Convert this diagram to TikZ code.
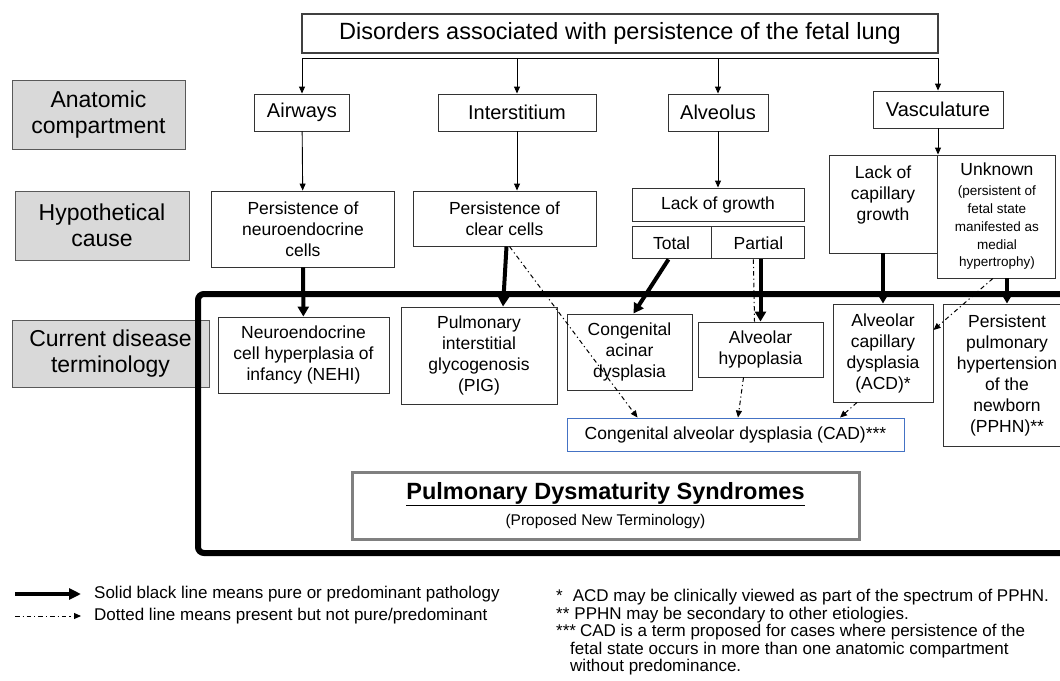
\documentclass[tikz,border=0pt]{standalone}
\usepackage{fontspec}
\setmainfont{Liberation Sans}
\usetikzlibrary{arrows.meta, positioning}
\definecolor{labelgray}{RGB}{217,217,217}
\definecolor{cadblue}{RGB}{68,114,196}
\definecolor{framegray}{RGB}{128,128,128}

\begin{document}
\begin{tikzpicture}[
  x=1pt, y=-1pt,
  every node/.style={font=\fontsize{17.5}{21}\selectfont, align=center, inner sep=1pt},
  box/.style={rectangle, draw=black!80, line width=0.9pt, fill=white},
  rowlabel/.style={rectangle, draw=black!65, line width=0.9pt, fill=labelgray, font=\fontsize{23}{26}\selectfont},
  compartment/.style={box, minimum height=37pt, font=\fontsize{20}{24}\selectfont},
  link/.style={-{Triangle[length=7pt,width=6pt]}, line width=0.9pt},
  pure/.style={-{Triangle[length=10pt,width=11pt]}, line width=4pt},
  weak/.style={-{Triangle[length=7pt,width=6pt]}, line width=1pt, dash pattern=on 4.5pt off 3pt on 1.2pt off 3pt}
]
\useasboundingbox (0,0) rectangle (1060,680);

% Row labels
\node[rowlabel, minimum width=173pt, minimum height=69pt] (lab1) at (98.5,114.5) {Anatomic\\compartment};
\node[rowlabel, minimum width=174pt, minimum height=69pt] (lab2) at (102,225.5) {Hypothetical\\cause};
\node[rowlabel, minimum width=197pt, minimum height=67pt] (lab3) at (110.5,353.5) {Current disease\\terminology};

% Frame round the current terminology
\node[draw, line width=6pt, rounded corners=6pt, minimum width=882pt, minimum height=259pt] (frame) at (639,423.5) {};

% Top box and compartments
\node[box, draw=black!75, line width=1.2pt, minimum width=636pt, minimum height=39pt, font=\fontsize{23.5}{26}\selectfont] (title) at (620,33.5) {Disorders associated with persistence of the fetal lung};
\coordinate (bar) at ([yshift=-5pt]title.south);

\node[compartment, minimum width=95pt] (airways) at (302,112.5) {Airways};
\node[compartment, minimum width=158pt] (inter) at (517,112.5) {Interstitium};
\node[compartment, minimum width=100pt] (alveolus) at (718,112.5) {Alveolus};
\node[compartment, minimum width=130pt] (vasc) at (938,109.5) {Vasculature};

% Hypothetical causes
\node[box, minimum width=183pt, minimum height=76pt] (pne) at (303,229) {Persistence of\\neuroendocrine\\cells};
\node[box, minimum width=183pt, minimum height=55pt] (pcc) at (504.5,218.5) {Persistence of\\clear cells};
\node[box, minimum width=172pt, minimum height=33pt] (growth) at (718,204.5) {Lack of growth};
\node[box, minimum width=79pt, minimum height=32pt, below=5pt of growth.south west, anchor=north west] (total) {Total};
\node[box, minimum width=93pt, minimum height=32pt, right=0pt of total] (partial) {Partial};
\node[box, minimum width=108pt, minimum height=98pt] (lackcap) at (883,204) {Lack of\\capillary\\growth\\\mbox{}};
\node[box, minimum width=118pt, minimum height=123pt, right=0pt of lackcap.north east, anchor=north west,
      font=\fontsize{13.5}{17.8}\selectfont] (unknown)
  {{\fontsize{17.5}{21}\selectfont Unknown}\\[2pt](persistent of\\fetal state\\manifested as\\medial\\hypertrophy)};

% Current disease terminology
\node[box, minimum width=171pt, minimum height=76pt] (nehi) at (303.5,355) {Neuroendocrine\\cell hyperplasia of\\infancy (NEHI)};
\node[box, minimum width=156pt, minimum height=97pt] (pig) at (479,355.5) {Pulmonary\\interstitial\\glycogenosis\\(PIG)};
\node[box, minimum width=125pt, minimum height=76pt] (cacd) at (629.5,352) {Congenital\\acinar\\dysplasia};
\node[box, minimum width=125pt, minimum height=55pt] (ahyp) at (760.5,349.5) {Alveolar\\hypoplasia};
\node[box, minimum width=100pt, minimum height=98pt] (acd) at (883,353) {Alveolar\\capillary\\dysplasia\\(ACD)*};
\node[box, minimum width=128pt, minimum height=142pt] (pphn) at (1007,375) {Persistent\\pulmonary\\hypertension\\of the\\newborn\\(PPHN)**};
\node[box, draw=cadblue, minimum width=337pt, minimum height=33pt] (cad) at (735.5,434.5) {Congenital alveolar dysplasia (CAD)***};
\node[box, draw=framegray, line width=3pt, minimum width=507pt, minimum height=67pt, font=\fontsize{15.5}{26}\selectfont] (pds) at (605.5,505.5)
  {{\fontsize{23.5}{26}\selectfont\bfseries\underline{Pulmonary Dysmaturity Syndromes}}\\(Proposed New Terminology)};

% Thin arrows
\foreach \n in {airways,inter,alveolus,vasc}
  \draw[link] (bar) -| (\n);
\draw[link] (airways) -- (pne);
\draw[link] (inter) -- (inter |- pcc.north);
\draw[link] (alveolus) -- (growth);
\draw[link] (vasc) -- (vasc |- lackcap.north);

% Pure or predominant
\draw[pure] (pne) -- (nehi);
\draw[pure] ([xshift=2pt]pcc.south) -- ([xshift=24pt]pig.north);
\draw[pure] ([xshift=-3pt]total.south) -- ([xshift=4pt]cacd.north);
\draw[pure] (ahyp.north |- partial.south) -- (ahyp.north);
\draw[pure] (lackcap) -- (acd);
\draw[pure] (pphn.north |- unknown.south) -- (pphn.north);

% Present but not pure
\draw[weak] ([xshift=5pt]pcc.south) -- ([xshift=-98pt]cad.north);
\draw[weak, -] ([xshift=-5pt]partial.south) -- ([xshift=-6pt]ahyp.north);
\draw[weak] ([xshift=-17pt]ahyp.south) -- ([xshift=2.5pt]cad.north);
\draw[weak] ([xshift=-26pt]acd.south) -- ([xshift=104.5pt]cad.north);
\draw[weak] ([xshift=-4pt]unknown.south) -- ([yshift=23pt]acd.east);

% Legend
\node[anchor=west, font=\fontsize{17}{20}\selectfont] (legsolid) at (93,594) {Solid black line means pure or predominant pathology};
\node[anchor=west, font=\fontsize{17}{20}\selectfont] (legweak) at (93,616) {Dotted line means present but not pure/predominant};
\coordinate (solidtail) at (15,594);
\coordinate (weaktail) at (15,616);
\draw[pure, -{Triangle[length=12pt,width=11pt]}, shorten >=12pt] (solidtail) -- (legsolid);
\draw[weak, shorten >=12pt] (weaktail) -- (legweak);

% Footnotes
\node[anchor=north west, align=left, font=\fontsize{17}{17.5}\selectfont] (notes) at (555,588)
  {*\hspace*{10pt}ACD may be clinically viewed as part of the spectrum of PPHN.\\
   **\hspace*{5pt}PPHN may be secondary to other etiologies.\\
   ***\hspace*{4pt}CAD is a term proposed for cases where persistence of the\\
   \hspace*{14pt}fetal state occurs in more than one anatomic compartment\\
   \hspace*{14pt}without predominance.};

\end{tikzpicture}
\end{document}
